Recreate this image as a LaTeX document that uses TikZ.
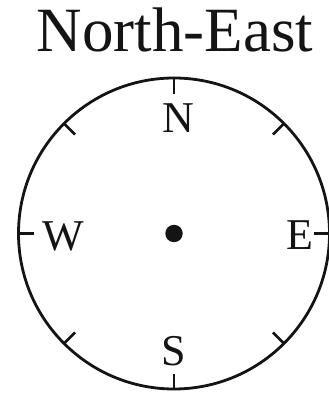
\documentclass[tikz,border=0pt]{standalone}
\usepackage{fontspec}
\setmainfont{Liberation Serif}
\usetikzlibrary{calc}
\begin{document}
\begin{tikzpicture}[x=1pt,y=-1pt,
  ring/.style={line width=2.8pt,draw=black!92},
  tickmark/.style={line width=2.8pt,draw=black!92},
  dirlabel/.style={inner sep=0pt,anchor=base,font=\fontsize{44}{44}\selectfont,text=black!92},
  titlelabel/.style={inner sep=0pt,anchor=base,font=\fontsize{63}{63}\selectfont,text=black!92}]
\useasboundingbox (0,0) rectangle (329,396);
\coordinate (c) at (174,233.5);
\draw[ring] (c) circle[radius=155.5];
\foreach \a in {0,45,...,315}{
  \draw[tickmark] ($(c)+(\a:155.5)$) -- ($(c)+(\a:140)$);
}
\fill[black!92] (c) circle[radius=8.7];
\node[titlelabel] (title) at (175,52) {North-East};
\node[dirlabel] (n) at (178,132) {N};
\node[dirlabel] (w) at (63,250) {W};
\node[dirlabel] (e) at (299.5,249) {E};
\node[dirlabel] (s) at (174,365.5) {S};
\end{tikzpicture}
\end{document}
